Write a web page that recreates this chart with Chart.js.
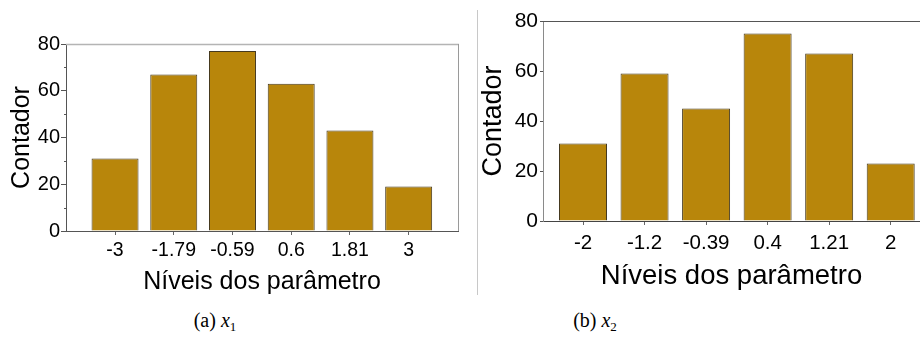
<!DOCTYPE html>
<html><head><meta charset="utf-8">
<script src="https://cdn.jsdelivr.net/npm/chart.js@4/dist/chart.umd.min.js"></script>
<style>
html,body{margin:0;padding:0;background:#fff;}
body{width:920px;height:338px;position:relative;overflow:hidden;}
.panel{position:absolute;top:0;height:300px;}
#divider{position:absolute;left:477px;top:10px;width:1px;height:285px;background:#c8c8c8;}
.caption{position:absolute;top:309px;font-family:"Liberation Serif","DejaVu Serif",serif;font-size:20px;color:#000;transform:translateX(-50%);white-space:nowrap;}
.caption i{font-style:italic;}
.caption sub{font-size:13px;vertical-align:-4px;line-height:0;}
</style></head>
<body>
<div id="divider"></div>
<div class="panel" style="left:0;width:470px"><canvas id="c1" width="470" height="300"></canvas></div>
<div class="panel" style="left:470px;width:450px"><canvas id="c2" width="450" height="300"></canvas></div>
<div class="caption" style="left:215px">(a) <i>x</i><sub>1</sub></div>
<div class="caption" style="left:595px">(b) <i>x</i><sub>2</sub></div>
<script>
// parameter levels and counts for each variable
const levelsX1 = ['-3', '-1.79', '-0.59', '0.6', '1.81', '3'];
const countsX1 = [31, 67, 77, 63, 43, 19];
const levelsX2 = ['-2', '-1.2', '-0.39', '0.4', '1.21', '2'];
const countsX2 = [31, 59, 45, 75, 67, 23];
const yTicks = [0, 20, 40, 60, 80];
const xTitle = 'Níveis dos parâmetro';
const yTitle = 'Contador';

const FONT = '"Liberation Sans", Arial, sans-serif';
const BAR_FILL = '#B8860B';
const BAR_EDGE = '#45391f';

// plain lines closing the plot box (top / right)
const framePlugin = {
  id: 'frame',
  afterDraw(chart, args, o) {
    const { ctx, chartArea: a } = chart;
    ctx.save();
    if (o.top) {
      ctx.strokeStyle = o.top; ctx.lineWidth = o.topWidth || 1;
      ctx.beginPath(); ctx.moveTo(a.left, Math.round(a.top) + 0.5); ctx.lineTo(a.right + 1, Math.round(a.top) + 0.5); ctx.stroke();
    }
    if (o.right) {
      ctx.strokeStyle = o.right; ctx.lineWidth = 1;
      ctx.beginPath(); ctx.moveTo(Math.round(a.right) + 0.5, a.top); ctx.lineTo(Math.round(a.right) + 0.5, a.bottom); ctx.stroke();
    }
    ctx.restore();
  }
};

// short minor tick marks between the labelled y ticks
const minorTickPlugin = {
  id: 'minorTicks',
  afterDraw(chart, args, o) {
    if (!o.show) return;
    const y = chart.scales.y, ctx = chart.ctx;
    const x0 = Math.round(y.right) + 0.5;
    ctx.save();
    ctx.strokeStyle = o.color; ctx.lineWidth = 1;
    for (let i = 0; i < yTicks.length - 1; i++) {
      const v = (yTicks[i] + yTicks[i + 1]) / 2;
      const py = Math.round(y.getPixelForValue(v)) + 0.5;
      ctx.beginPath(); ctx.moveTo(x0 - o.length, py); ctx.lineTo(x0, py); ctx.stroke();
    }
    ctx.restore();
  }
};

function makeChart(id, labels, counts, c) {
  return new Chart(document.getElementById(id), {
    type: 'bar',
    data: {
      datasets: [{
        data: counts.map((v, i) => ({ x: i, y: v })),
        backgroundColor: BAR_FILL,
        borderColor: BAR_EDGE,
        borderWidth: 1,
        categoryPercentage: 1,
        barPercentage: c.barPct
      }]
    },
    options: {
      responsive: false,
      animation: false,
      devicePixelRatio: 1,
      layout: { padding: c.padding },
      plugins: {
        legend: { display: false },
        tooltip: { enabled: false },
        frame: c.frame,
        minorTicks: c.minor
      },
      scales: {
        x: {
          type: 'linear',
          min: c.xMin, max: c.xMax,
          offset: false,
          bounds: 'data',
          afterBuildTicks(s) { s.ticks = labels.map((_, i) => ({ value: i })); },
          afterFit(s) { s.height = c.xHeight; },
          ticks: {
            callback: (v) => labels[v],
            color: '#000',
            font: { family: FONT, size: c.tickSize },
            padding: c.xTickPad,
            maxRotation: 0, autoSkip: false
          },
          grid: { display: true, drawOnChartArea: false, offset: false, tickLength: c.xTickLen, tickColor: '#666' },
          border: { display: true, color: c.xAxisColor, width: 1 },
          title: { display: true, text: xTitle, color: '#000', font: { family: FONT, size: c.xTitleSize }, padding: { top: 0, bottom: c.xTitlePad } }
        },
        y: {
          min: 0, max: 80,
          afterBuildTicks(s) { s.ticks = yTicks.map(v => ({ value: v })); },
          afterFit(s) { s.width = c.yWidth; },
          ticks: {
            color: '#000',
            font: { family: FONT, size: c.yTickSize },
            padding: c.yTickPad
          },
          grid: { display: true, drawOnChartArea: false, tickLength: c.yTickLen, tickColor: '#555' },
          border: { display: true, color: c.yAxisColor, width: 1 },
          title: { display: true, text: yTitle, color: '#000', font: { family: FONT, size: c.yTitleSize }, padding: { top: c.yTitlePad, bottom: 0 } }
        }
      }
    },
    plugins: [framePlugin, minorTickPlugin]
  });
}

makeChart('c1', levelsX1, countsX1, {
  padding: { left: 0, top: 44, right: 12, bottom: 0 },
  yWidth: 66, xHeight: 69,
  xMin: -0.835, xMax: 5.84, barPct: 0.8,
  tickSize: 19.5, yTickSize: 20, xTickLen: 4, xTickPad: 4, yTickLen: 5, yTickPad: 1,
  xTitleSize: 25, xTitlePad: 3, yTitleSize: 25, yTitlePad: 7,
  xAxisColor: '#555', yAxisColor: '#555',
  frame: { top: '#b4b4b4', topWidth: 1.5, right: '#9a9a9a' },
  minor: { show: true, length: 2.5, color: '#555' }
});

makeChart('c2', levelsX2, countsX2, {
  padding: { left: 0, top: 21, right: 0, bottom: 0 },
  yWidth: 73, xHeight: 79,
  xMin: -0.65, xMax: 5.476, barPct: 0.78,
  tickSize: 20.5, yTickSize: 21, xTickLen: 4, xTickPad: 6, yTickLen: 3, yTickPad: 2,
  xTitleSize: 27.5, xTitlePad: 7, yTitleSize: 27, yTitlePad: 7,
  xAxisColor: '#444', yAxisColor: '#8a8a8a',
  frame: { top: '#555', topWidth: 1 },
  minor: { show: false }
});
</script>
</body></html>
